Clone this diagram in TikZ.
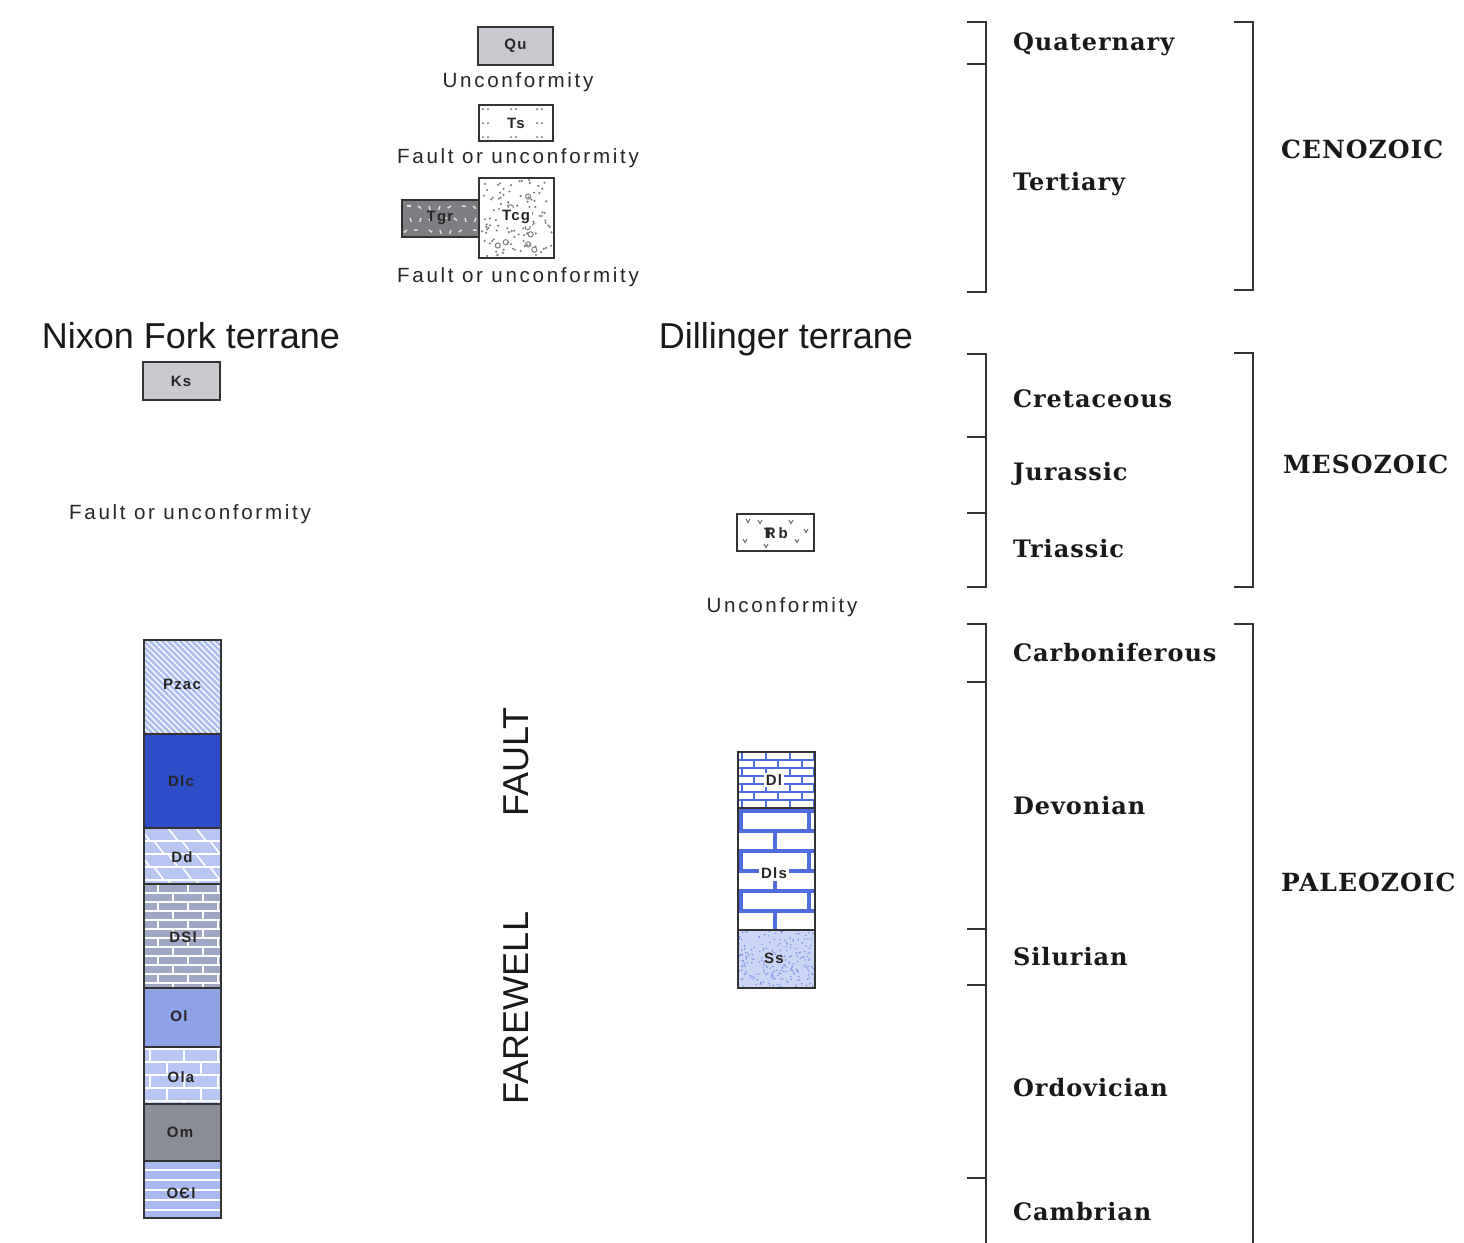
\documentclass[tikz,border=0pt]{standalone}
\usepackage{fontspec}
\setmainfont{Liberation Sans}
\newfontfamily\notefont[LetterSpace=13]{Liberation Sans}
\newfontfamily\boxfont[LetterSpace=8]{Liberation Sans}
\newfontfamily\agefont[LetterSpace=4]{DejaVu Serif}
\usepackage{tikz}
\usetikzlibrary{calc}
\definecolor{quGray}{HTML}{C9C9CF}
\definecolor{tgrGray}{HTML}{7E7E82}
\definecolor{pzacBlue}{HTML}{AEBDF0}
\definecolor{dlcBlue}{HTML}{2D4CC8}
\definecolor{ddBlue}{HTML}{B8C5F0}
\definecolor{dslBlue}{HTML}{A0A7C4}
\definecolor{olBlue}{HTML}{8EA2E6}
\definecolor{olaBlue}{HTML}{B9C5F2}
\definecolor{omGray}{HTML}{8B8D99}
\definecolor{oclBlue}{HTML}{A9B8EE}
\definecolor{limeBlue}{HTML}{4F6DDE}
\definecolor{ssBlue}{HTML}{CBD5F5}

\begin{document}
\begin{tikzpicture}[x=0.5pt,y=-0.5pt,
  unitbox/.style={draw=black!80,line width=0.8pt},
  unitlbl/.style={font=\boxfont\bfseries\fontsize{7.5}{8}\selectfont,text=black!85},
  note/.style={font=\notefont\fontsize{10.3}{12}\selectfont,text=black!85},
  terrane/.style={anchor=base,font=\fontsize{18}{20}\selectfont,text=black!90},
  fault/.style={font=\fontsize{18}{20}\selectfont,rotate=90,text=black!90},
  age/.style={anchor=west,font=\agefont\bfseries\fontsize{12}{14}\selectfont,text=black!90},
  era/.style={anchor=west,font=\agefont\bfseries\fontsize{12.5}{14}\selectfont,text=black!90},
  brk/.style={line width=0.9pt,black!80},
  mortar/.style={white,line width=0.8pt}]
\useasboundingbox (0,0) rectangle (1464,1243);

% ---- overlap assemblage ----
\fill[quGray] (478,27) rectangle (553,65);
\draw[unitbox] (478,27) rectangle (553,65);
\node[unitlbl] (Qu) at (515.5,46) {Qu};
\node[note] (unc1) at (518,82) {Unconformity};

\foreach \yy in {109,137} \foreach \xx in {483,511,537} {
  \fill[black!60] (\xx,\yy) circle (1); \fill[black!60] (\xx+5,\yy) circle (1);}
\foreach \xx in {483,537} {
  \fill[black!60] (\xx,123) circle (1); \fill[black!60] (\xx+5,123) circle (1);}
\draw[unitbox] (479,105) rectangle (553,141);
\node[unitlbl] (Ts) at (516,123) {Ts};
\node[note] (fou1) at (518,158) {Fault or unconformity};

\fill[tgrGray] (402,200) rectangle (479,237);
\begin{scope}
\clip (402,200) rectangle (479,237);
\foreach \gx in {0,...,6} \foreach \gy in {0,...,2} {
  \pgfmathsetmacro\px{407+11*\gx+3*mod(\gy,2)}
  \pgfmathsetmacro\py{206+12*\gy}
  \pgfmathsetmacro\pa{mod(37*\gx+71*\gy,180)}
  \draw[white!80!gray,line width=0.7pt] (\px,\py) -- ++(\pa:4);
}
\end{scope}
\draw[unitbox] (402,200) rectangle (479,237);
\node[unitlbl] (Tgr) at (440,218) {Tgr};

\begin{scope}
\clip (479,178) rectangle (554,258);
\pgfmathsetseed{5}
\foreach \i in {1,...,110} {
  \pgfmathsetmacro\px{481+71*rnd}
  \pgfmathsetmacro\py{180+76*rnd}
  \fill[black!50] (\px,\py) circle (1.2);
}
\foreach \i in {1,...,9} {
  \pgfmathsetmacro\px{484+65*rnd}
  \pgfmathsetmacro\py{184+68*rnd}
  \draw[black!50,line width=0.5pt] (\px,\py) circle (2.6);
}
\end{scope}
\draw[unitbox] (479,178) rectangle (554,258);
\node[unitlbl,fill=white,inner sep=1pt] (Tcg) at (516,217) {Tcg};
\node[note] (fou2) at (518,277) {Fault or unconformity};

% ---- Nixon Fork terrane ----
\node[terrane] (nixon) at (191,348) {Nixon Fork terrane};
\fill[quGray] (143,362) rectangle (220,400);
\draw[unitbox] (143,362) rectangle (220,400);
\node[unitlbl] (Ks) at (181,381) {Ks};
\node[note] (fou3) at (190,514) {Fault or unconformity};

\begin{scope}
\clip (144,640) rectangle (221,1218);
% Pzac
\fill[pzacBlue] (144,640) rectangle (221,734);
\foreach \k in {-100,-94,...,80}
  \draw[white,line width=0.7pt] (144+\k,640) -- ++(100,100);
% Dlc
\fill[dlcBlue] (144,734) rectangle (221,828);
% Dd
\fill[ddBlue] (144,828) rectangle (221,884);
\foreach \r in {0,...,4} {
  \pgfmathsetmacro\yy{828+13*\r}
  \draw[mortar] (144,\yy) -- (221,\yy);
  \pgfmathsetmacro\off{mod(\r,2)*14}
  \foreach \xx in {140,168,...,230}
    \draw[mortar] (\xx+\off,\yy) -- ++(10,13);
}
% DSl
\fill[dslBlue] (144,884) rectangle (221,988);
\foreach \r in {0,...,11} {
  \pgfmathsetmacro\yy{884+9*\r}
  \draw[mortar] (144,\yy) -- (221,\yy);
  \pgfmathsetmacro\off{mod(\r,2)*15}
  \foreach \xx in {158,188,...,230}
    \draw[mortar] (\xx+\off,\yy) -- ++(0,9);
}
% Ol
\fill[olBlue] (144,988) rectangle (221,1047);
% Ola
\fill[olaBlue] (144,1047) rectangle (221,1104);
\foreach \r in {0,...,4} {
  \pgfmathsetmacro\yy{1049+13*\r}
  \draw[mortar,line width=1.2pt] (144,\yy) -- (221,\yy);
  \pgfmathsetmacro\off{mod(\r,2)*17}
  \foreach \xx in {150,184,...,230}
    \draw[mortar,line width=1.2pt] (\xx+\off,\yy) -- ++(0,13);
}
% Om
\fill[omGray] (144,1104) rectangle (221,1161);
% OCl
\fill[oclBlue] (144,1161) rectangle (221,1218);
\foreach \yy in {1170,1180,...,1218}
  \draw[mortar] (144,\yy) -- (221,\yy);
\end{scope}
\draw[unitbox] (144,640) rectangle (221,1218);
\foreach \yy in {734,828,884,988,1047,1104,1161}
  \draw[unitbox] (144,\yy) -- (221,\yy);
\node[unitlbl] (Pzac) at (182,684) {Pzac};
\node[unitlbl] (Dlc) at (181,781) {Dlc};
\node[unitlbl] (Dd) at (182,857) {Dd};
\node[unitlbl] (DSl) at (183,937) {DSl};
\node[unitlbl] (Ol) at (179,1016) {Ol};
\node[unitlbl] (Ola) at (181,1077) {Ola};
\node[unitlbl] (Om) at (180,1132) {Om};
\node[unitlbl] (OCl) at (181,1193) {OЄl};

% ---- Farewell fault ----
\node[fault] (faultA) at (516,762) {FAULT};
\node[fault] (faultB) at (516,1008) {FAREWELL};

% ---- Dillinger terrane ----
\node[terrane] (dill) at (786,348) {Dillinger terrane};
\foreach \vx/\vy in {748/521,745/541,766/546,797/541,791/522,806/531,760/522}
  \draw[black!60,line width=0.5pt] (\vx-2,\vy-2) -- (\vx,\vy+1.5) -- (\vx+2,\vy-2);
\draw[unitbox] (737,514) rectangle (814,551);
\node[unitlbl] (TRb) at (776,533) {\makebox[0pt][l]{T}\kern0.05em R\kern0.2em b};
\node[note] (unc2) at (782,607) {Unconformity};

\begin{scope}
\clip (738,752) rectangle (815,988);
% Dl
\fill[white] (738,752) rectangle (815,808);
\foreach \r in {0,...,6} {
  \pgfmathsetmacro\yy{752+8*\r}
  \draw[limeBlue,line width=0.6pt] (738,\yy) -- (815,\yy);
  \pgfmathsetmacro\off{mod(\r,2)*12}
  \foreach \xx in {742,766,...,820}
    \draw[limeBlue,line width=0.6pt] (\xx+\off,\yy) -- ++(0,8);
}
% Dls
\fill[white] (738,808) rectangle (815,930);
\foreach \r in {0,...,6} {
  \pgfmathsetmacro\yy{811+20*\r}
  \draw[limeBlue,line width=1.6pt] (738,\yy) -- (815,\yy);
  \pgfmathsetmacro\off{mod(\r,2)*34}
  \foreach \xx in {741,809}
    \draw[limeBlue,line width=1.6pt] (\xx+\off,\yy) -- ++(0,20);
}
% Ss
\fill[ssBlue] (738,930) rectangle (815,988);
\pgfmathsetseed{3}
\foreach \i in {1,...,220} {
  \pgfmathsetmacro\px{738+77*rnd}
  \pgfmathsetmacro\py{930+58*rnd}
  \fill[limeBlue!80] (\px,\py) circle (0.8);
}
\end{scope}
\draw[unitbox] (738,752) rectangle (815,988);
\foreach \yy in {808,930}
  \draw[unitbox] (738,\yy) -- (815,\yy);
\node[unitlbl,fill=white,inner sep=1pt] (Dl) at (774,780) {Dl};
\node[unitlbl,fill=white,inner sep=1pt] (Dls) at (774,873) {Dls};
\node[unitlbl] (Ss) at (774,958) {Ss};

% ---- time scale ----
\draw[brk] (967,22) -- (986,22) -- (986,292) -- (967,292);
\draw[brk] (967,354) -- (986,354) -- (986,587) -- (967,587);
\draw[brk] (967,624) -- (986,624) -- (986,1243);
\foreach \yy in {64,437,513,682,929,985,1178}
  \draw[brk] (967,\yy) -- (986,\yy);
\draw[brk] (1234,22) -- (1253,22) -- (1253,290) -- (1234,290);
\draw[brk] (1234,353) -- (1253,353) -- (1253,587) -- (1234,587);
\draw[brk] (1234,624) -- (1253,624) -- (1253,1243);

\node[age] (quat) at (1006,44) {Quaternary};
\node[age] (tert) at (1006,184) {Tertiary};
\node[age] (cret) at (1006,399) {Cretaceous};
\node[age] (jura) at (1006,474) {Jurassic};
\node[age] (tria) at (1006,549) {Triassic};
\node[age] (carb) at (1006,653) {Carboniferous};
\node[age] (devo) at (1006,806) {Devonian};
\node[age] (silu) at (1006,957) {Silurian};
\node[age] (ordo) at (1006,1088) {Ordovician};
\node[age] (camb) at (1006,1212) {Cambrian};

\node[era] (ceno) at (1274,149) {CENOZOIC};
\node[era] (meso) at (1276,464) {MESOZOIC};
\node[era] (pale) at (1274,882) {PALEOZOIC};
\end{tikzpicture}
\end{document}
